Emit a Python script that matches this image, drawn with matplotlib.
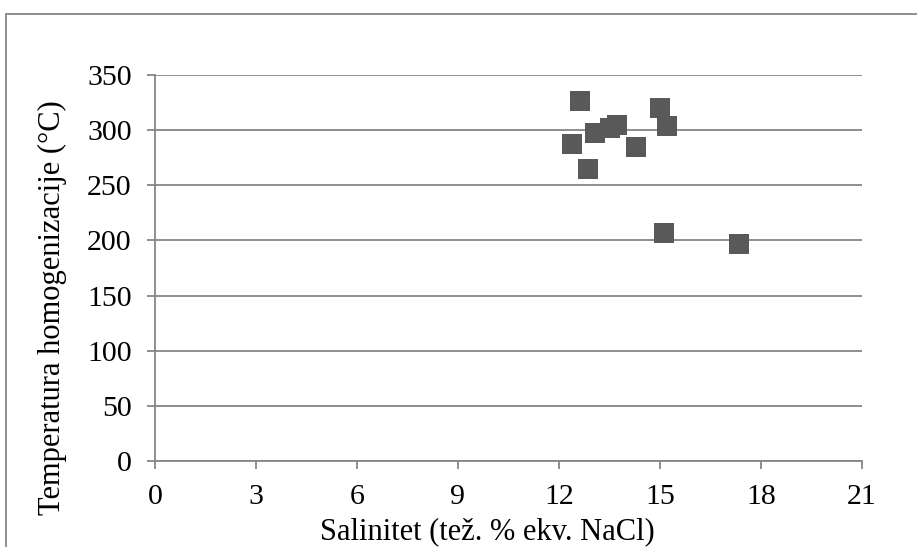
import matplotlib
matplotlib.use("Agg")
import matplotlib.pyplot as plt
from matplotlib.patches import Rectangle

salinity = [12.61, 12.40, 12.85, 13.07, 13.52, 13.73, 14.28, 15.01, 15.21, 15.11, 17.36]
temperature = [326, 287, 265, 297, 302, 305, 285, 320, 304, 207, 197]
x_ticks = [0, 3, 6, 9, 12, 15, 18, 21]
y_ticks = [0, 50, 100, 150, 200, 250, 300, 350]

plt.rcParams['font.family'] = ['Liberation Serif', 'DejaVu Serif']

W, H = 917, 547
fig = plt.figure(figsize=(W / 100, H / 100), dpi=100)
ax = fig.add_axes([155 / W, 1 - 461 / H, (862 - 155) / W, (461 - 75) / H])

ax.scatter(salinity, temperature, marker='s', s=(20 * 0.72) ** 2, color='#595959',
           zorder=3, linewidths=0)

ax.set_xlim(0, 21)
ax.set_ylim(0, 350)
ax.set_xticks(x_ticks)
ax.set_yticks(y_ticks)
ax.grid(axis='y', color='#868686', linewidth=1.3)
ax.set_axisbelow(True)
for s in ['top', 'right']:
    ax.spines[s].set_visible(False)
for s in ['left', 'bottom']:
    ax.spines[s].set_color('#868686')
    ax.spines[s].set_linewidth(1.3)
ax.tick_params(axis='both', colors='#868686', labelcolor='black', labelsize=21.5,
               length=5.8, width=1.3, direction='out', pad=11)

fig.text(487 / W, 8 / H, 'Salinitet (tež. % ekv. NaCl)', fontsize=22,
         ha='center', va='baseline')
fig.text(52 / W, 1 - 307.5 / H, 'Temperatura homogenizacije (°C)', fontsize=22,
         rotation=90, ha='center', va='center')

fig.patches.append(Rectangle((5.5 / W, -0.1), 1.2, 1.1 - 13.5 / H, transform=fig.transFigure,
                             fill=False, edgecolor='#868686', linewidth=1.3, clip_on=False))

fig.savefig('out.png', dpi=100)
